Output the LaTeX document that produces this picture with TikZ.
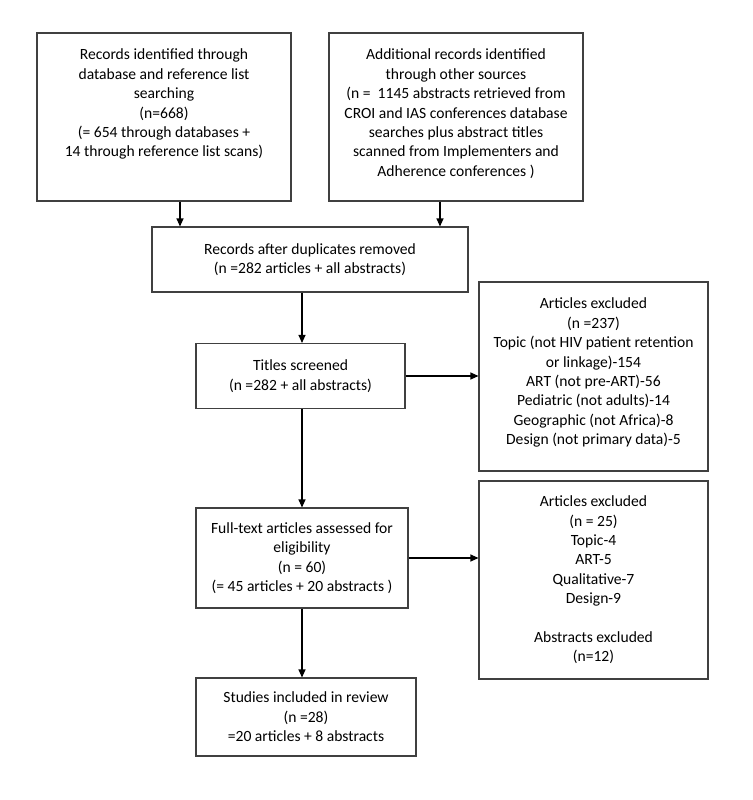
\documentclass[tikz,border=0pt]{standalone}
\usepackage{fontspec}
\setmainfont{Carlito}
\usetikzlibrary{arrows.meta}
\tikzstyle{stage} = [draw=black!75, line width=1.1pt, rectangle, align=center, inner sep=0pt, font=\fontsize{15.6}{19.4}\selectfont]
\tikzstyle{topstage} = [stage, inner xsep=0pt, inner ysep=16pt]
\tikzstyle{flowarrow} = [draw=black, line width=1.1pt, -{Triangle[length=8pt,width=7pt]}]

\begin{document}
\begin{tikzpicture}[x=1pt,y=-1pt]
	\useasboundingbox (0,0) rectangle (752,800);
	\node[topstage](records) at (164,117){
		\begin{minipage}[c][136pt][t]{254pt}
			\centering
			Records identified through\\
			database and reference list\\
			searching\\
			(n=668)\\
			(= 654 through databases +\\
			14 through reference list scans)
		\end{minipage}};
	\node[topstage](others) at (456,117){
		\begin{minipage}[c][136pt][t]{254pt}
			\centering
			Additional records identified\\
			through other sources\\
			(n = \ 1145 abstracts retrieved from\\
			CROI and IAS conferences database\\
			searches plus abstract titles\\
			scanned from Implementers and\\
			Adherence conferences )
		\end{minipage}};
	\node[stage, minimum width=316pt, minimum height=65pt](removed) at (310,259.5){Records after duplicates removed\\ (n =282 articles + all abstracts)};
	\node[stage, minimum width=209pt, minimum height=65pt](screened) at (300.5,376){Titles screened\\ (n =282 + all abstracts)};
	\node[topstage](excludedA) at (593.5,376.5){
		\begin{minipage}[c][157pt][t]{229pt}
			\centering
			Articles excluded\\
			(n =237)\\
			Topic (not HIV patient retention\\
			or linkage)-154\\
			ART (not pre-ART)-56\\
			Pediatric (not adults)-14\\
			Geographic (not Africa)-8\\
			Design (not primary data)-5
		\end{minipage}};
	\node[stage, minimum width=212pt, minimum height=100pt](assessed) at (302,558){Full-text articles assessed for\\ eligibility\\ (n = 60)\\ (= 45 articles + 20 abstracts )};
	\node[stage, minimum width=229pt, minimum height=198pt](excludedB) at (593.5,580){Articles excluded\\ (n = 25)\\ Topic-4\\ ART-5\\ Qualitative-7\\ Design-9\\[19.4pt] Abstracts excluded\\ (n=12)};
	\node[stage, minimum width=220pt, minimum height=78pt](included) at (306,717){Studies included in review\\ (n =28)\\ =20 articles + 8 abstracts};
	% arrows
	\draw[flowarrow] ([xshift=16pt]records.south) -- ([xshift=16pt]records.south |- removed.north);
	\draw[flowarrow] ([xshift=-16pt]others.south) -- ([xshift=-16pt]others.south |- removed.north);
	\draw[flowarrow] ([xshift=-8pt]removed.south) -- ([xshift=-8pt]removed.south |- screened.north);
	\draw[flowarrow] (screened.east) -- (screened.east -| excludedA.west);
	\draw[flowarrow] ([xshift=1.5pt]screened.south) -- ([xshift=1.5pt]screened.south |- assessed.north);
	\draw[flowarrow] (assessed.east) -- (assessed.east -| excludedB.west);
	\draw[flowarrow] (assessed.south) -- (assessed.south |- included.north);
\end{tikzpicture}
\end{document}
